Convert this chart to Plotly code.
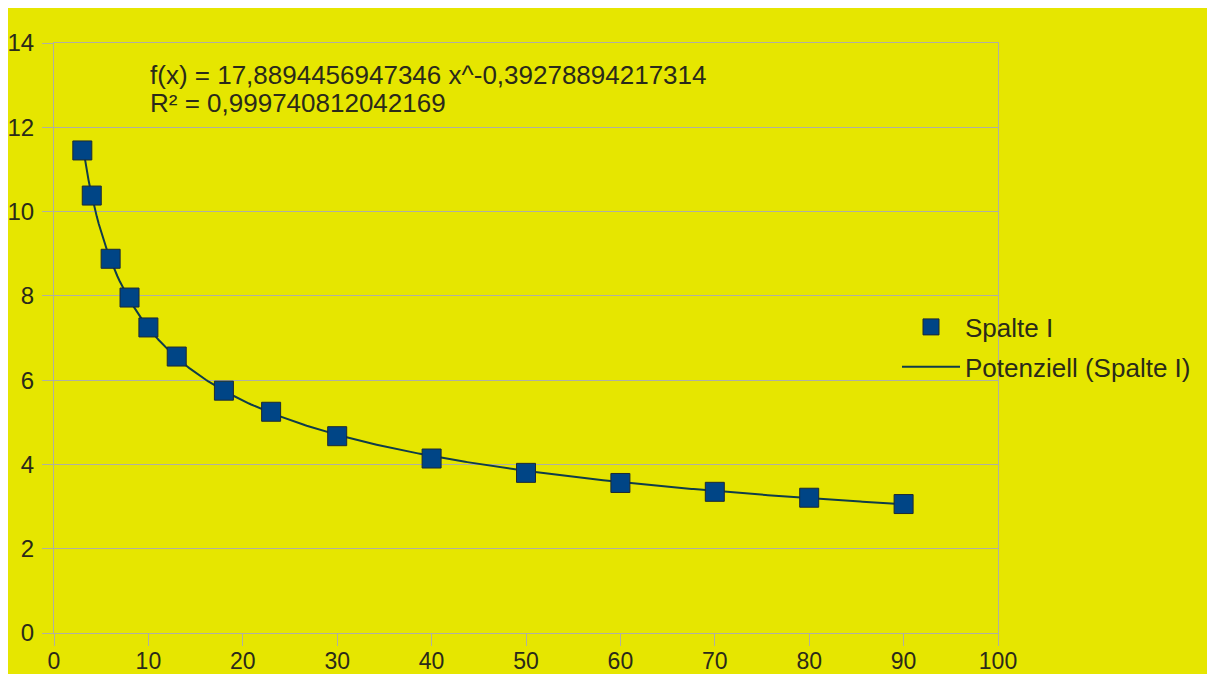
import numpy as np
import plotly.graph_objects as go

# Data
x_values = [3, 4, 6, 8, 10, 13, 18, 23, 30, 40, 50, 60, 70, 80, 90]
y_values = [11.45, 10.38, 8.88, 7.96, 7.25, 6.56, 5.75, 5.25, 4.67, 4.14, 3.80, 3.56, 3.35, 3.21, 3.06]

# Power trendline coefficients shown on the chart
coef_a = 17.8894456947346
coef_b = -0.39278894217314
r_squared_text = "0,999740812042169"

x_ticks = [0, 10, 20, 30, 40, 50, 60, 70, 80, 90, 100]
y_ticks = [0, 2, 4, 6, 8, 10, 12, 14]

series_name = "Spalte I"
trend_name = "Potenziell (Spalte I)"

BG = "#E6E600"
SERIES_COLOR = "#004586"
GRID = "#B0B0A0"
TEXT = "#2a2a1a"
FONT = "Liberation Sans"

x_fit = np.linspace(min(x_values), max(x_values), 400)
y_fit = coef_a * x_fit ** coef_b

fig = go.Figure()
fig.add_trace(go.Scatter(
    x=x_fit, y=y_fit, mode="lines", name=trend_name,
    legendgroup="b", legendrank=2,
    line=dict(color="#0f3c4a", width=2),
))
fig.add_trace(go.Scatter(
    x=x_values, y=y_values, mode="markers", name=series_name,
    legendgroup="a", legendrank=1,
    marker=dict(symbol="square", size=19, color=SERIES_COLOR,
                line=dict(color="#1c2a33", width=1)),
))

# page has an 8px body margin; figure coords = page coords - 8
W, H = 1199, 666
L, R, T, B = 46, 209, 35, 41
pw, ph = W - L - R, H - T - B
OFF = 8

def px_x(p):
    return (p - OFF - L) / pw

def px_y(p):
    return (H - B - (p - OFF)) / ph

fig.add_annotation(
    x=px_x(148), y=px_y(75), xref="paper", yref="paper",
    xanchor="left", yanchor="middle", showarrow=False,
    text=f"f(x) = {str(coef_a).replace('.', ',')} x^{str(coef_b).replace('.', ',')}",
    font=dict(family=FONT, size=26, color=TEXT),
)
fig.add_annotation(
    x=px_x(148), y=px_y(103), xref="paper", yref="paper",
    xanchor="left", yanchor="middle", showarrow=False,
    text=f"R² = {r_squared_text}",
    font=dict(family=FONT, size=26, color=TEXT),
)

fig.update_layout(
    width=W, height=H,
    margin=dict(l=L, r=R, t=T, b=B, autoexpand=False),
    paper_bgcolor=BG, plot_bgcolor=BG,
    font=dict(family=FONT, size=24, color=TEXT),
    showlegend=True,
    legend=dict(
        x=px_x(897), y=px_y(347), xref="paper", yref="paper",
        xanchor="left", yanchor="middle",
        bgcolor="rgba(0,0,0,0)", font=dict(family=FONT, size=26, color=TEXT),
        traceorder="grouped", tracegroupgap=3, itemwidth=58,
    ),
    xaxis=dict(
        range=[0, 100], tickvals=x_ticks, ticktext=[str(v) for v in x_ticks],
        showgrid=False, zeroline=False, automargin=False,
        showline=True, linecolor=GRID, linewidth=1, mirror=True,
        ticks="outside", ticklen=12, tickcolor=GRID, ticklabelstandoff=-5,
        tickfont=dict(family=FONT, size=23, color=TEXT),
    ),
    yaxis=dict(
        range=[0, 14], tickvals=y_ticks, ticktext=[str(v) for v in y_ticks],
        showgrid=True, gridcolor=GRID, gridwidth=1, zeroline=False, automargin=False,
        showline=True, linecolor=GRID, linewidth=1, mirror=True,
        ticks="outside", ticklen=11, tickcolor=GRID, ticklabelstandoff=3,
        tickfont=dict(family=FONT, size=24, color=TEXT),
    ),
)

fig.write_html("out.html")
